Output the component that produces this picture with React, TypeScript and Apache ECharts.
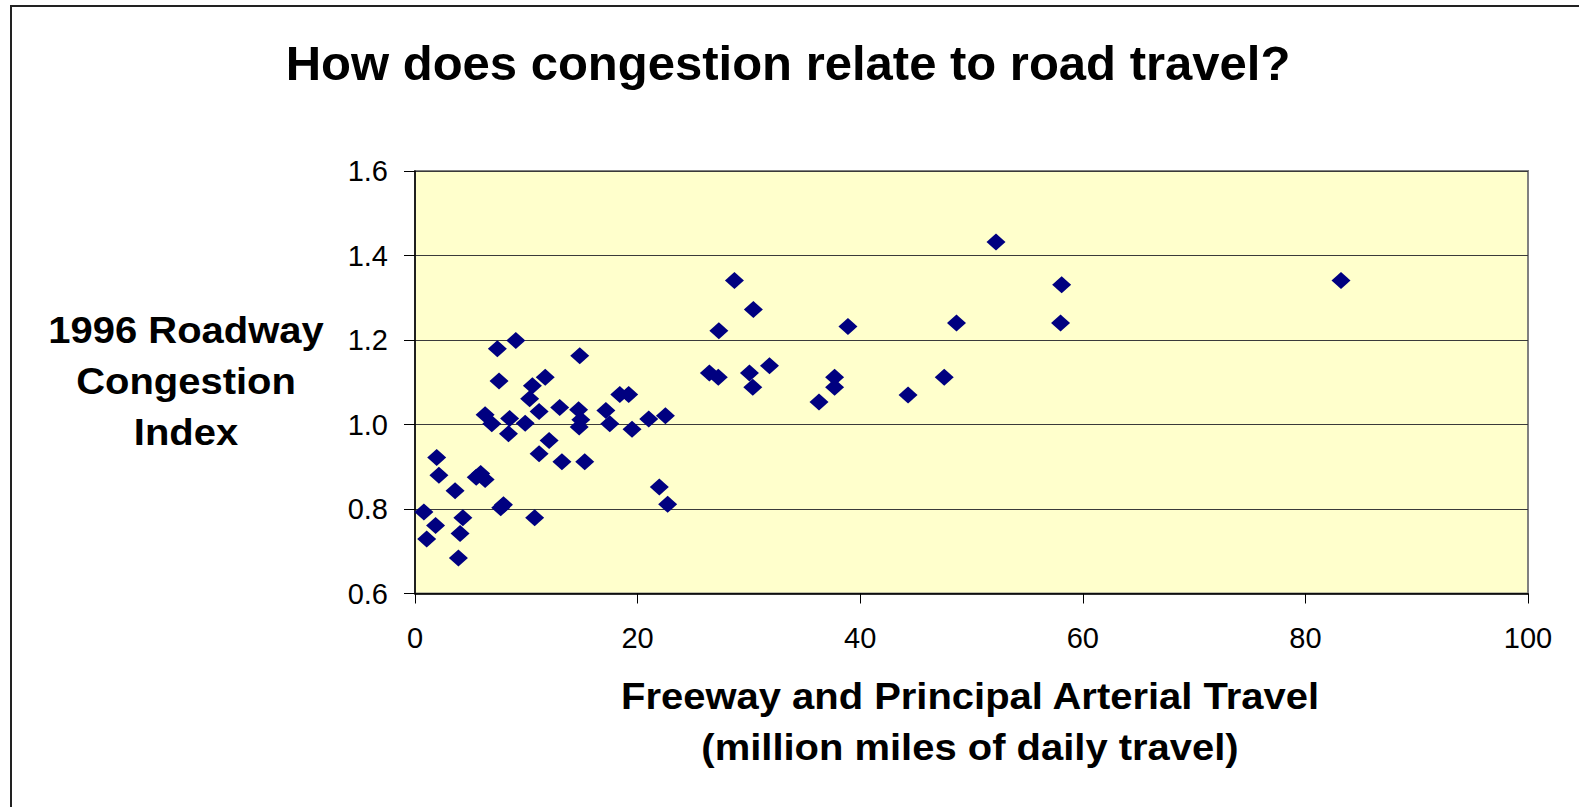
import React, { useEffect, useRef } from "react";
import * as echarts from "echarts";

const travel: number[] = [
  9.06, 7.4, 14.8, 7.55, 11.7, 10.55, 10.3, 6.3, 6.9, 8.5, 9.9, 8.4, 11.15, 13.0, 14.7, 14.9,
  14.75, 17.15, 17.5, 18.4, 19.2, 19.5, 21.0, 22.5, 12.05, 11.15, 13.2, 15.25, 1.95, 2.15, 5.5,
  5.9, 6.3, 3.6, 7.7, 7.95, 21.95, 22.7, 0.8, 1.85, 1.05, 4.3, 4.05, 3.9, 10.75, 28.7, 30.4,
  27.3, 38.9, 52.2, 58.1, 58.0, 48.65, 26.45, 27.25, 30.05, 30.35, 31.85, 37.7, 37.7, 36.3,
  44.3, 47.55, 83.2,
];

const congestionIndex: number[] = [
  1.199, 1.179, 1.163, 1.103, 1.112, 1.092, 1.061, 1.023, 1.002, 1.014, 1.003, 0.978, 1.031,
  1.04, 1.035, 1.011, 0.994, 1.033, 1.002, 1.071, 1.071, 0.989, 1.013, 1.021, 0.962, 0.931,
  0.912, 0.912, 0.922, 0.88, 0.875, 0.884, 0.87, 0.843, 0.803, 0.81, 0.852, 0.811, 0.793,
  0.761, 0.729, 0.779, 0.742, 0.684, 0.779, 1.341, 1.272, 1.222, 1.232, 1.432, 1.331, 1.24,
  1.24, 1.122, 1.112, 1.122, 1.088, 1.139, 1.112, 1.088, 1.053, 1.07, 1.112, 1.341,
];

const chartTitle = "How does congestion relate to road travel?";
const yTitleLines = ["1996 Roadway", "Congestion", "Index"];
const xTitleLines = ["Freeway and Principal Arterial Travel", "(million miles of daily travel)"];

const FONT = "'Liberation Sans', Arial, Helvetica, sans-serif";

export default function App() {
  const ref = useRef<HTMLDivElement>(null);

  useEffect(() => {
    if (!ref.current) return;
    const chart = echarts.init(ref.current, undefined, { renderer: "svg" });
    const points = travel.map((x, i) => [x, congestionIndex[i]]);

    chart.setOption({
      animation: false,
      backgroundColor: "#ffffff",
      textStyle: { fontFamily: FONT },
      grid: {
        left: 415,
        right: 51,
        top: 171,
        bottom: 213.5,
        show: true,
        backgroundColor: "#FFFFCC",
        borderColor: "#808080",
        borderWidth: 2,
        containLabel: false,
      },
      xAxis: {
        type: "value",
        min: 0,
        max: 100,
        interval: 20,
        axisLine: { show: true, onZero: false, lineStyle: { color: "#000000", width: 1.5 } },
        axisTick: { show: true, length: 10, lineStyle: { color: "#000000", width: 1 } },
        splitLine: { show: false },
        axisLabel: { color: "#000000", fontSize: 29, fontFamily: FONT, margin: 30 },
      },
      yAxis: {
        type: "value",
        min: 0.6,
        max: 1.6,
        interval: 0.2,
        axisLine: { show: true, onZero: false, lineStyle: { color: "#000000", width: 1.5 } },
        axisTick: { show: true, length: 11, lineStyle: { color: "#000000", width: 1 } },
        splitLine: { show: true, lineStyle: { color: "#3a3a3a", width: 1 } },
        axisLabel: {
          color: "#000000",
          fontSize: 29,
          fontFamily: FONT,
          margin: 27,
          formatter: (v: number) => v.toFixed(1),
        },
      },
      series: [
        {
          type: "scatter",
          data: points,
          symbol: "diamond",
          symbolSize: [19, 17],
          itemStyle: { color: "#000080", opacity: 1 },
          z: 5,
        },
      ],
      graphic: [
        {
          type: "rect",
          silent: true,
          shape: { x: 11, y: 6, width: 1700, height: 1000 },
          style: { fill: "none", stroke: "#222222", lineWidth: 2 },
          z: 100,
        },
        {
          type: "text",
          x: 788,
          y: 62.5,
          style: {
            text: chartTitle,
            fill: "#000000",
            font: `bold 49px ${FONT}`,
            textAlign: "center",
            textVerticalAlign: "middle",
          },
        },
        {
          type: "text",
          x: 186,
          y: 381,
          scaleX: 1.08,
          style: {
            text: yTitleLines.join("\n"),
            fill: "#000000",
            font: `bold 37px ${FONT}`,
            lineHeight: 51,
            textAlign: "center",
            textVerticalAlign: "middle",
          },
        },
        {
          type: "text",
          x: 970,
          y: 722,
          scaleX: 1.08,
          style: {
            text: xTitleLines.join("\n"),
            fill: "#000000",
            font: `bold 37px ${FONT}`,
            lineHeight: 51,
            textAlign: "center",
            textVerticalAlign: "middle",
          },
        },
      ],
    });

    return () => {
      chart.dispose();
    };
  }, []);

  return (
    <div
      ref={ref}
      style={{ position: "absolute", left: 0, top: 0, width: 1579, height: 807 }}
    />
  );
}
